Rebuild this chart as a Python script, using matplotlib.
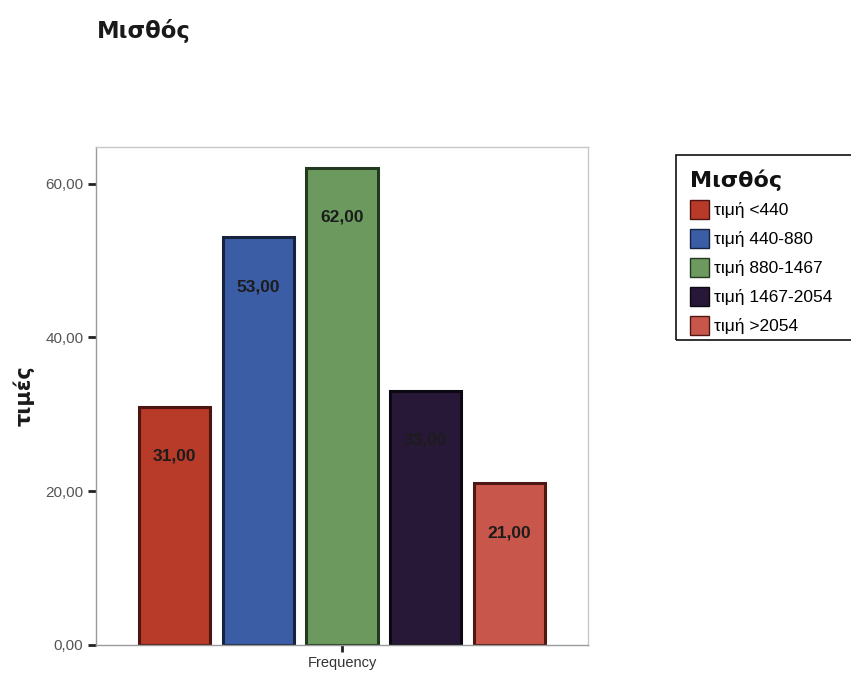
import matplotlib
matplotlib.use("Agg")
import matplotlib.pyplot as plt
from matplotlib.patches import Patch, Rectangle

plt.rcParams['font.family'] = ['Liberation Sans', 'DejaVu Sans']

# Salary bands and their frequencies
categories = ["τιμή <440", "τιμή 440-880", "τιμή 880-1467", "τιμή 1467-2054", "τιμή >2054"]
values = [31.00, 53.00, 62.00, 33.00, 21.00]
face_colors = ["#b83a28", "#3a5da6", "#6c9a5e", "#281838", "#c9564a"]
edge_colors = ["#4e1510", "#16223e", "#22391f", "#0c0812", "#4e1812"]
y_ticks = [0, 20, 40, 60]
y_tick_labels = ["0,00", "20,00", "40,00", "60,00"]

fig = plt.figure(figsize=(8.51, 6.75), dpi=100)
ax = fig.add_axes([96 / 851, 1 - 645 / 675, (588 - 96) / 851, (645 - 147) / 675])

x = list(range(len(values)))
bars = ax.bar(x, values, width=0.85, color=face_colors, edgecolor=edge_colors,
              linewidth=2.2, zorder=2)

for xi, v in zip(x, values):
    ax.text(xi, v - 6.4, f"{v:.2f}".replace(".", ","), ha="center", va="center",
            fontsize=12.5, fontweight="bold", color="#1c1c1c", zorder=3)

ax.set_xlim(-0.937, 4.937)
ax.set_ylim(0, 64.75)
ax.set_yticks(y_ticks)
ax.set_yticklabels(y_tick_labels, fontsize=11, color="#555555")
ax.set_xticks([2])
ax.set_xticklabels(["Frequency"], fontsize=10.5, color="#333333")
ax.tick_params(axis="y", length=6, width=2, color="#222222", pad=3)
ax.tick_params(axis="x", length=5, width=2, color="#222222", pad=3)

for side in ["left", "bottom"]:
    ax.spines[side].set_color("#9a9a9a")
    ax.spines[side].set_linewidth(1.0)
for side in ["top", "right"]:
    ax.spines[side].set_color("#c8c8c8")
    ax.spines[side].set_linewidth(1.0)

ax.set_ylabel("τιμές", fontsize=15, fontweight="bold", color="#1a1a1a",
              family=["DejaVu Sans"], labelpad=8)

fig.text(97 / 851, 1 - 31 / 675, "Μισθός", fontsize=16.3, fontweight="bold",
         color="#1a1a1a", ha="left", va="center", family=["DejaVu Sans"])

# Legend box and entries
fig.patches.append(Rectangle((676 / 851, 1 - 340 / 675), 190 / 851, 185 / 675,
                             transform=fig.transFigure, fill=False,
                             edgecolor="#111111", linewidth=1.2))
fig.text(690 / 851, 1 - 180 / 675, "Μισθός", fontsize=16, fontweight="bold",
         color="#111111", ha="left", va="center", family=["DejaVu Sans"])
handles = [Patch(facecolor=fc, edgecolor=ec, linewidth=1.0)
           for fc, ec in zip(face_colors, edge_colors)]
fig.legend(handles, categories, loc="upper left",
           bbox_to_anchor=(678 / 851, 1 - 188 / 675), frameon=False,
           fontsize=12.5, handlelength=1.1, handleheight=1.3,
           handletextpad=0.3, labelspacing=0.58, borderpad=0.2)

fig.savefig("out.png", dpi=100, facecolor="white")
